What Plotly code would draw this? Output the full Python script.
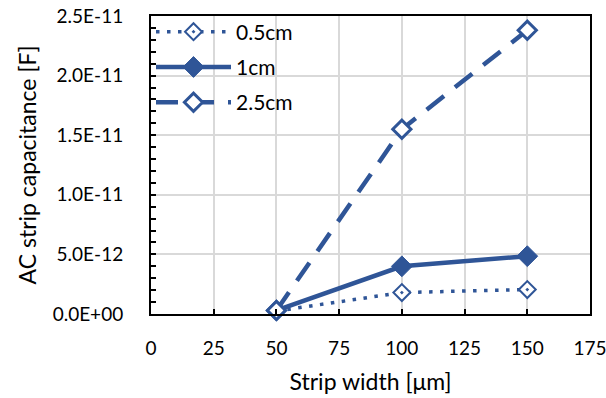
import plotly.graph_objects as go

# Strip width [um] and measured AC strip capacitance [F] per strip length
strip_width = [50, 100, 150]
cap_05cm = [0.25e-12, 1.8e-12, 2.05e-12]
cap_1cm = [0.3e-12, 4.0e-12, 4.85e-12]
cap_25cm = [0.3e-12, 1.55e-11, 2.38e-11]

y_tickvals = [0, 5e-12, 1e-11, 1.5e-11, 2e-11, 2.5e-11]
y_ticktext = ["0.0E+00", "5.0E-12", "1.0E-11", "1.5E-11", "2.0E-11", "2.5E-11"]
x_tickvals = [0, 25, 50, 75, 100, 125, 150, 175]

blue = "#2F5597"
font = "Lato, 'Open Sans', sans-serif"

fig = go.Figure()
fig.add_trace(go.Scatter(
    x=strip_width, y=cap_05cm, name="0.5cm", mode="lines+markers",
    legendgroup="a",
    line=dict(color=blue, width=3.5, dash="3.5px,7.5px"),
    marker=dict(symbol="diamond-dot", size=13, color="white",
                line=dict(color=blue, width=2)),
    cliponaxis=False,
))
fig.add_trace(go.Scatter(
    x=strip_width, y=cap_1cm, name="1cm", mode="lines+markers",
    legendgroup="b",
    line=dict(color=blue, width=4.5),
    marker=dict(symbol="diamond", size=16, color=blue,
                line=dict(color=blue, width=1)),
    cliponaxis=False,
))
fig.add_trace(go.Scatter(
    x=strip_width, y=cap_25cm, name="2.5cm", mode="lines+markers",
    legendgroup="c",
    line=dict(color=blue, width=4.5, dash="22px,14px"),
    marker=dict(symbol="diamond", size=14, color="white",
                line=dict(color=blue, width=3)),
    cliponaxis=False,
))

fig.update_layout(
    width=606, height=398,
    margin=dict(l=151, r=16, t=16, b=84),
    paper_bgcolor="white", plot_bgcolor="white",
    font=dict(family=font, size=19, color="black"),
    showlegend=True,
    legend=dict(x=0.0, y=1.015, xanchor="left", yanchor="top",
                bgcolor="rgba(0,0,0,0)", font=dict(size=21),
                tracegroupgap=5, itemwidth=75),
    xaxis=dict(
        range=[0, 175], tickvals=x_tickvals, automargin=False,
        ticklabeloverflow="allow",
        showgrid=True, gridcolor="#D9D9D9", gridwidth=1.5,
        showline=True, linecolor="black", linewidth=2, mirror=True,
        ticks="inside", ticklen=5, tickwidth=2, tickcolor="black",
        zeroline=False, ticklabelstandoff=16,
        title=dict(text="Strip width [μm]", font=dict(size=23), standoff=16),
    ),
    yaxis=dict(
        range=[0, 2.5e-11], tickvals=y_tickvals, ticktext=y_ticktext,
        automargin=False, ticklabeloverflow="allow",
        showgrid=True, gridcolor="#D9D9D9", gridwidth=1.5,
        showline=True, linecolor="black", linewidth=2, mirror=True,
        ticks="inside", ticklen=5, tickwidth=2, tickcolor="black",
        minor=dict(dtick=1e-12, ticks="inside", ticklen=5, tickwidth=2,
                   tickcolor="black", showgrid=False),
        zeroline=False, ticklabelstandoff=22,
        title=dict(text="AC strip capacitance [F]", font=dict(size=23), standoff=10),
    ),
)

fig.write_html("out.html")
